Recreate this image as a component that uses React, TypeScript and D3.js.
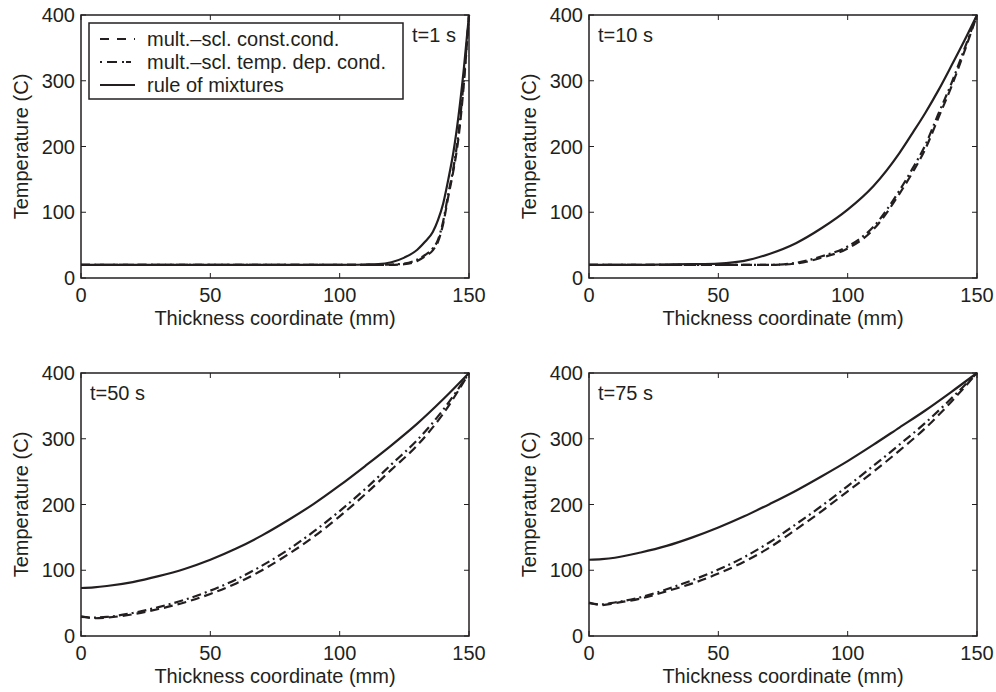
import React from 'react';
import * as d3 from 'd3';

// thickness grid (mm) and temperatures (C) for each time step
const x1 = [0, 20, 40, 60, 80, 100, 110, 115, 120, 125, 130, 133, 136, 138, 140, 142, 144, 146, 148, 150];
const t1Const = [20, 20, 20, 20, 20, 20, 20, 20, 20, 21, 26, 33, 42, 55, 82, 124, 164, 215, 295, 400];
const t1Temp = [20, 20, 20, 20, 20, 20, 20, 20, 20.5, 22, 28, 35, 45, 58, 86, 128, 168, 222, 302, 400];
const t1Mix = [20, 20, 20, 20, 20, 20, 20.5, 21, 24, 31, 43, 55, 70, 88, 113, 150, 192, 248, 318, 400];

const x10 = [0, 10, 20, 30, 40, 50, 60, 70, 80, 90, 100, 110, 120, 125, 130, 135, 140, 145, 150];
const t10Const = [20, 20, 20, 20, 20, 20, 20, 20, 22, 31, 45, 74, 128, 160, 196, 243, 290, 343, 400];
const t10Temp = [20, 20, 20, 20, 20, 20, 20, 20, 23, 33, 48, 78, 133, 166, 202, 249, 295, 347, 400];
const t10Mix = [20, 20, 20, 20.5, 21, 22, 26, 37, 53, 76, 104, 140, 190, 220, 251, 285, 322, 360, 400];

const x50 = [0, 5, 10, 20, 30, 40, 50, 60, 70, 80, 90, 100, 110, 120, 130, 140, 150];
const t50Const = [30, 27, 28, 33, 41, 51, 64, 80, 100, 124, 151, 182, 216, 253, 290, 338, 400];
const t50Temp = [29, 28, 29, 35, 44, 55, 69, 86, 107, 131, 159, 190, 224, 261, 298, 344, 400];
const t50Mix = [73, 74, 76, 82, 91, 102, 116, 133, 153, 176, 201, 229, 259, 290, 323, 360, 400];

const x75 = [0, 5, 10, 20, 30, 40, 50, 60, 70, 80, 90, 100, 110, 120, 130, 140, 150];
const t75Const = [51, 47, 50, 57, 68, 80, 95, 113, 135, 162, 190, 220, 250, 282, 316, 356, 400];
const t75Temp = [50, 48, 51, 59, 71, 85, 101, 120, 143, 170, 198, 228, 259, 291, 324, 361, 400];
const t75Mix = [116, 117, 119, 127, 137, 150, 165, 182, 201, 221, 243, 266, 291, 317, 343, 371, 400];

const xTicks = [0, 50, 100, 150];
const yTicks = [0, 100, 200, 300, 400];
const seriesNames = ['mult.\u2013scl. const.cond.', 'mult.\u2013scl. temp. dep. cond.', 'rule of mixtures'];
const timeLabels = ['t=1 s', 't=10 s', 't=50 s', 't=75 s'];

const panels = [
  { xs: x1, ys: [t1Const, t1Temp, t1Mix], left: 81, top: 15, label: timeLabels[0], labelRight: true, legend: true },
  { xs: x10, ys: [t10Const, t10Temp, t10Mix], left: 589, top: 15, label: timeLabels[1] },
  { xs: x50, ys: [t50Const, t50Temp, t50Mix], left: 81, top: 373, label: timeLabels[2] },
  { xs: x75, ys: [t75Const, t75Temp, t75Mix], left: 589, top: 373, label: timeLabels[3] },
];

const W = 388;
const H = 263;
const ink = '#231f20';
const font = '"Liberation Sans", Arial, Helvetica, sans-serif';
const dashes = ['9,5', '9,4,2,4', null];

const Panel = ({ p }: { p: any }) => {
  const x = d3.scaleLinear().domain([0, 150]).range([0, W]);
  const y = d3.scaleLinear().domain([0, 400]).range([H, 0]);
  const line = (xs: number[], ys: number[]) =>
    d3.line<number>().x((_, i) => x(xs[i])).y(d => y(d)).curve(d3.curveMonotoneX)(ys) || '';

  return (
    <g transform={`translate(${p.left},${p.top})`} fontFamily={font} fill={ink}>
      {p.ys.map((ys: number[], k: number) => (
        <path key={k} d={line(p.xs, ys)} fill="none" stroke={ink} strokeWidth={2.2}
          strokeDasharray={dashes[k] || undefined} />
      ))}
      <rect x={0} y={0} width={W} height={H} fill="none" stroke={ink} strokeWidth={1.5} />
      {xTicks.map(t => (
        <g key={'x' + t}>
          <line x1={x(t)} x2={x(t)} y1={H} y2={H - 5} stroke={ink} />
          <line x1={x(t)} x2={x(t)} y1={0} y2={5} stroke={ink} />
          <text x={x(t)} y={H + 24} textAnchor="middle" fontSize={20}>{t}</text>
        </g>
      ))}
      {yTicks.map(t => (
        <g key={'y' + t}>
          <line x1={0} x2={5} y1={y(t)} y2={y(t)} stroke={ink} />
          <line x1={W} x2={W - 5} y1={y(t)} y2={y(t)} stroke={ink} />
          <text x={-6} y={y(t)} dy="0.35em" textAnchor="end" fontSize={20}>{t}</text>
        </g>
      ))}
      <text x={W / 2} y={H + 47} textAnchor="middle" fontSize={20}>Thickness coordinate (mm)</text>
      <text transform={`translate(-53,${H / 2}) rotate(-90)`} textAnchor="middle" fontSize={20}>Temperature (C)</text>
      <text x={p.labelRight ? 331 : 9} y={27} fontSize={20}>{p.label}</text>
      {p.legend && (
        <g>
          <rect x={8} y={8} width={314} height={76} fill="#fff" stroke={ink} strokeWidth={1.5} />
          {seriesNames.map((s, k) => (
            <g key={s} transform={`translate(0,${24 + k * 23})`}>
              <line x1={19} x2={54} y1={0} y2={0} stroke={ink} strokeWidth={2.2}
                strokeDasharray={k === 0 ? '9,8' : k === 1 ? '2,5,10,5,2' : undefined} />
              <text x={66} y={0} dy="0.35em" fontSize={20}>{s}</text>
            </g>
          ))}
        </g>
      )}
    </g>
  );
};

export default function App() {
  return (
    <svg width={996} height={692} style={{ position: 'absolute', left: 0, top: 0, background: '#fff' }}>
      {panels.map((p, i) => <Panel key={i} p={p} />)}
    </svg>
  );
}
